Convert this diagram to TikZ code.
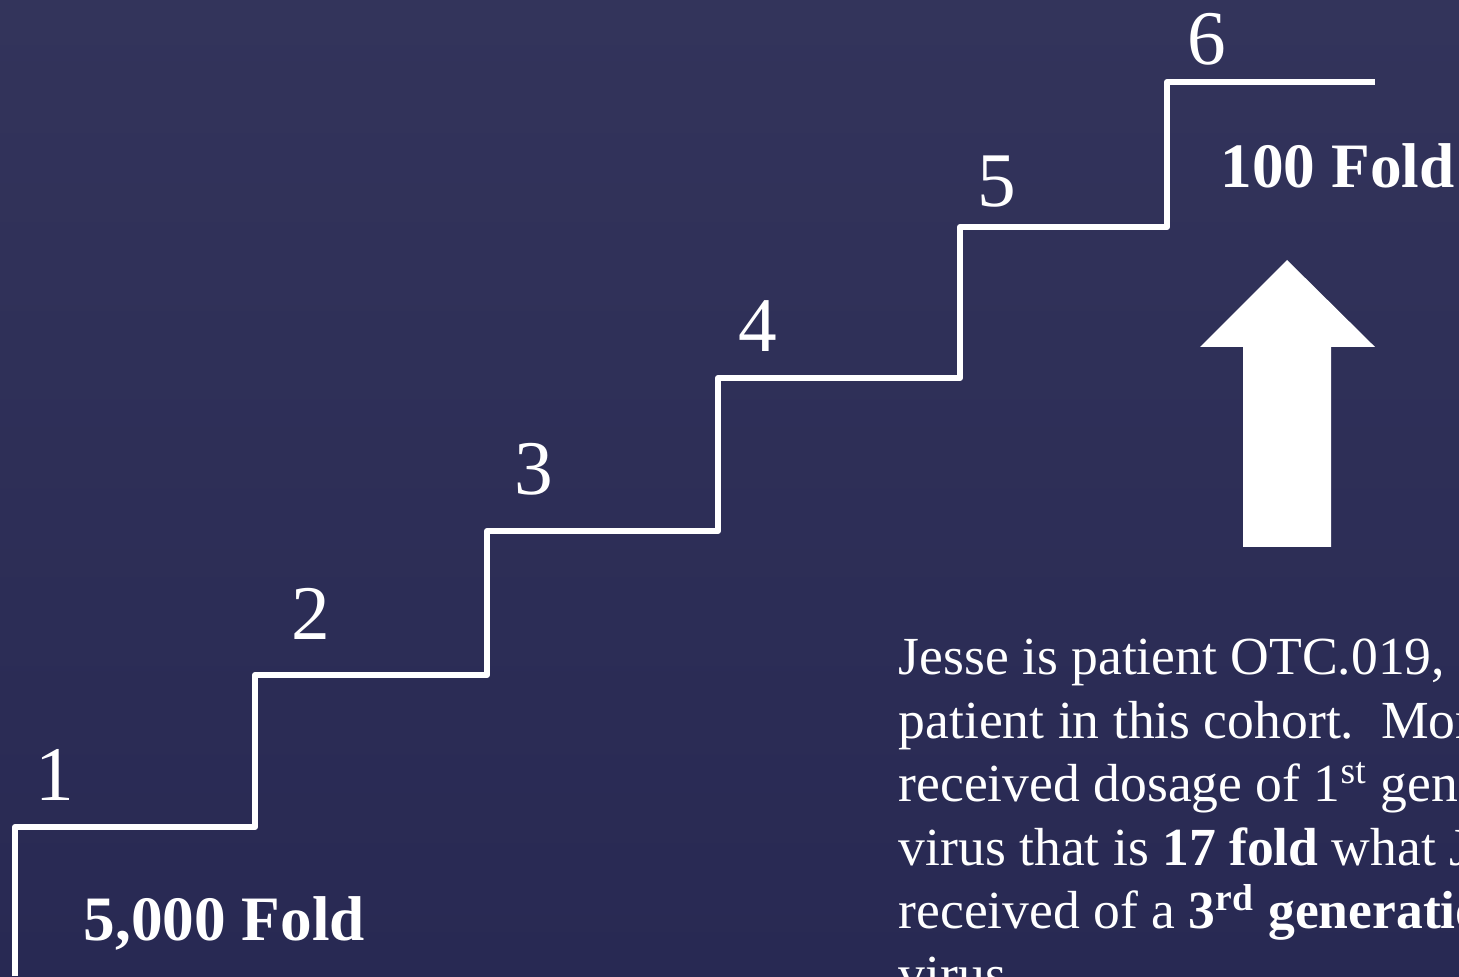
\documentclass[tikz,border=0pt]{standalone}
\usepackage{fontspec}
\setmainfont{Liberation Serif}

\definecolor{slatetop}{RGB}{51,52,91}
\definecolor{slatebot}{RGB}{40,41,83}

\tikzset{
  stair/.style={white, line width=0.06cm, line join=round},
  stepnum/.style={text=white, anchor=base, inner sep=0pt,
    font=\fontsize{22pt}{26pt}\selectfont},
  foldlbl/.style={text=white, anchor=base west, inner sep=0pt,
    font=\fontsize{18pt}{22pt}\selectfont\bfseries},
  notetext/.style={text=white, anchor=base west, inner sep=0pt, align=left,
    font=\fontsize{15.25pt}{18.07pt}\selectfont}
}

\begin{document}
\begin{tikzpicture}[scale=1]

\useasboundingbox (0,0) rectangle (14.59,9.76);
\clip (0,0) rectangle (14.59,9.76);

% Fond
\shade[top color=slatetop, bottom color=slatebot] (0,0) rectangle (14.59,9.76);

% Escalier
\draw[stair] (0.15,0) -- (0.15,1.49) -- (2.55,1.49) -- (2.55,3.01)
  -- (4.87,3.01) -- (4.87,4.45) -- (7.18,4.45) -- (7.18,5.98)
  -- (9.60,5.98) -- (9.60,7.49) -- (11.67,7.49) -- (11.67,8.94)
  -- (13.75,8.94);

% Marches
\node[stepnum] (n1) at (0.55,1.76) {1};
\node[stepnum] (n2) at (3.11,3.36) {2};
\node[stepnum] (n3) at (5.34,4.81) {3};
\node[stepnum] (n4) at (7.58,6.24) {4};
\node[stepnum] (n5) at (9.97,7.69) {5};
\node[stepnum] (n6) at (12.07,9.11) {6};

\node[foldlbl] (low) at (0.83,0.36) {5,000 Fold};
\node[foldlbl] (high) at (12.20,7.88) {100 Fold};

% Fleche
\fill[white] (12.43,4.29) -- (12.43,6.29) -- (12.00,6.29) -- (12.87,7.16)
  -- (13.75,6.29) -- (13.31,6.29) -- (13.31,4.29) -- cycle;

% Texte (coupe au bord)
\node[notetext] (note) at (8.98,-0.165)
{Jesse is patient OTC.019, 1\\
patient in this cohort.\ \ Mor\\
received dosage of 1\textsuperscript{st} generation\\
virus that is \textbf{17 fold} what Jesse\\
received of a \textbf{3\textsuperscript{rd} generation}\\
virus.};

\end{tikzpicture}
\end{document}
